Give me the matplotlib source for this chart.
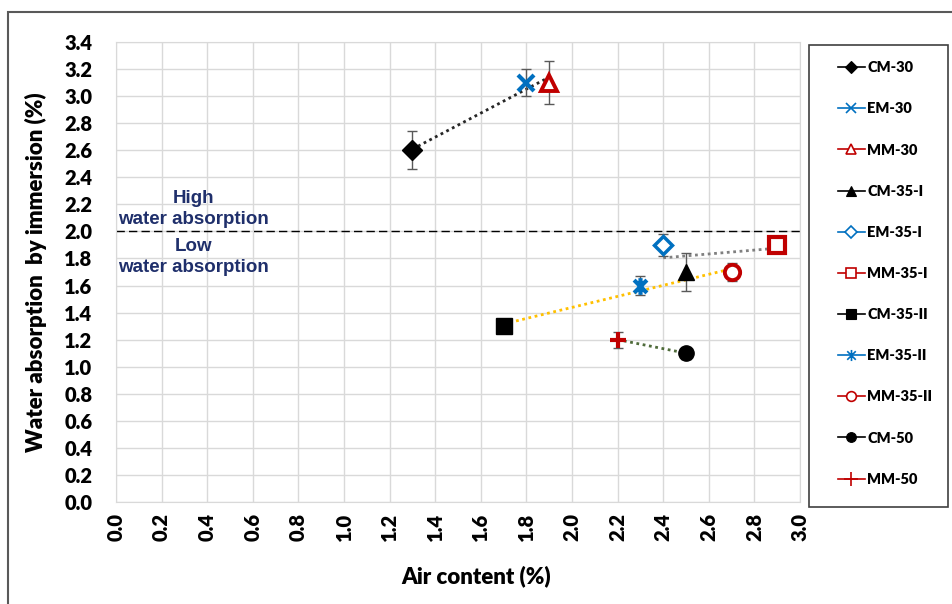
import matplotlib.pyplot as plt
from matplotlib.lines import Line2D
from matplotlib.patches import Rectangle
from matplotlib.path import Path
import numpy as np

# data
names = ['CM-30', 'EM-30', 'MM-30', 'CM-35-I', 'EM-35-I', 'MM-35-I',
         'CM-35-II', 'EM-35-II', 'MM-35-II', 'CM-50', 'MM-50']
air = [1.3, 1.8, 1.9, 2.5, 2.4, 2.9, 1.7, 2.3, 2.7, 2.5, 2.2]
absorption = [2.6, 3.1, 3.1, 1.7, 1.9, 1.9, 1.3, 1.6, 1.7, 1.1, 1.2]
err = [0.14, 0.10, 0.16, 0.14, 0.08, 0.05, 0.03, 0.07, 0.07, 0.04, 0.06]

# trend line groups (indices into the arrays above) and their colours
groups = [[0, 1, 2], [3, 4, 5], [6, 7, 8], [9, 10]]
trend_colors = ['#262626', '#808080', '#FFC000', '#4F6B3A']

BLUE, RED, BLACK = '#0070C0', '#C00000', '#000000'
star = Path([(-1, -1), (1, 1), (-1, 1), (1, -1), (0, -1.3), (0, 1.3)],
            [Path.MOVETO, Path.LINETO, Path.MOVETO, Path.LINETO, Path.MOVETO, Path.LINETO])

# marker style per series: marker, colour, filled, size, edge width
styles = [
    ('D', BLACK, True, 10, 1),
    ('x', BLUE, False, 11, 3),
    ('^', RED, False, 11, 2.8),
    ('^', BLACK, True, 12, 1),
    ('D', BLUE, False, 9, 2.5),
    ('s', RED, False, 11, 3),
    ('s', BLACK, True, 11, 1),
    (star, BLUE, False, 12, 3),
    ('o', RED, False, 11, 2.8),
    ('o', BLACK, True, 11, 1),
    ('+', RED, False, 12, 3),
]
legend_sizes = [6, 7, 7, 7, 6, 7, 7, 8, 7, 7, 10]

fig = plt.figure(figsize=(9.52, 6.04), dpi=100)
plt.rcParams['font.family'] = ['Lato', 'DejaVu Sans']
ax = fig.add_axes([116 / 952, 1 - 502 / 604, (800 - 116) / 952, (502 - 42) / 604])

# outer chart border
fig.patches.append(Rectangle((8 / 952, -0.2), 1.2, 1 - 12 / 604 + 0.2, transform=fig.transFigure,
                             fill=False, edgecolor='#595959', linewidth=1.5))

ax.set_xlim(0, 3.0)
ax.set_ylim(0, 3.4)
ax.set_xticks(np.arange(0, 3.01, 0.2))
ax.set_yticks(np.arange(0, 3.41, 0.2))
ax.set_xticklabels([f'{v:.1f}' for v in np.arange(0, 3.01, 0.2)], rotation=90, fontweight='heavy', fontsize=14.5)
ax.set_yticklabels([f'{v:.1f}' for v in np.arange(0, 3.41, 0.2)], fontweight='heavy', fontsize=14.5)
ax.tick_params(length=0)
ax.tick_params(axis='y', pad=17)
ax.tick_params(axis='x', pad=8)
ax.grid(True, color='#D9D9D9', linewidth=1)
ax.set_axisbelow(True)
for s in ax.spines.values():
    s.set_color('#D9D9D9')

# trend lines
for g, c in zip(groups, trend_colors):
    gx = np.array([air[i] for i in g])
    gy = np.array([absorption[i] for i in g])
    k, b = np.polyfit(gx, gy, 1)
    xs = np.array([gx.min(), gx.max()])
    ax.plot(xs, k * xs + b, linestyle=(0, (1, 1.3)), color=c, linewidth=2, zorder=2)

ax.axhline(2.0, color='black', linestyle=(0, (6, 3)), linewidth=1, zorder=2)

ax.errorbar(air, absorption, yerr=err, fmt='none', ecolor='#595959', elinewidth=1,
            capsize=3.3, capthick=1, zorder=2.5)

handles = []
for i, (m, c, filled, ms, mew) in enumerate(styles):
    ax.plot(air[i], absorption[i], linestyle='none', marker=m, markersize=ms,
            markerfacecolor=c if filled else 'white', markeredgecolor=c,
            markeredgewidth=mew, zorder=3)
    handles.append(Line2D([], [], color=c, linewidth=1.2, marker=m, markersize=legend_sizes[i],
                          markerfacecolor=c if filled else 'white', markeredgecolor=c,
                          markeredgewidth=1.2 if not filled else 0.8))

txt = dict(color='#1F2F6B', fontsize=13.5, fontweight='bold', ha='center', va='center',
           family='Liberation Sans')
ax.text(0.34, 2.24, 'High', **txt)
ax.text(0.34, 2.085, 'water absorption', **txt)
ax.text(0.34, 1.89, 'Low', **txt)
ax.text(0.34, 1.73, 'water absorption', **txt)

ax.set_xlabel('Air content (%)', fontsize=16, fontweight='heavy')
ax.xaxis.set_label_coords((476 - 116) / 684, -63 / 460)
ax.set_ylabel('Water absorption  by immersion (%)', fontsize=16, fontweight='heavy', labelpad=12)

# legend with its own frame
fig.patches.append(Rectangle((809 / 952, 1 - 507 / 604), (948 - 809) / 952, (507 - 45) / 604,
                             transform=fig.transFigure, fill=False, edgecolor='#404040', linewidth=1.2))
fig.legend(handles, names, loc='upper left', bbox_to_anchor=(831 / 952, 1 - 54 / 604),
           frameon=False, prop={'weight': 'heavy', 'size': 10.5}, handlelength=1.8,
           handletextpad=0.2, labelspacing=1.93, borderaxespad=0, borderpad=0.5)

fig.savefig('out.png', dpi=100)
